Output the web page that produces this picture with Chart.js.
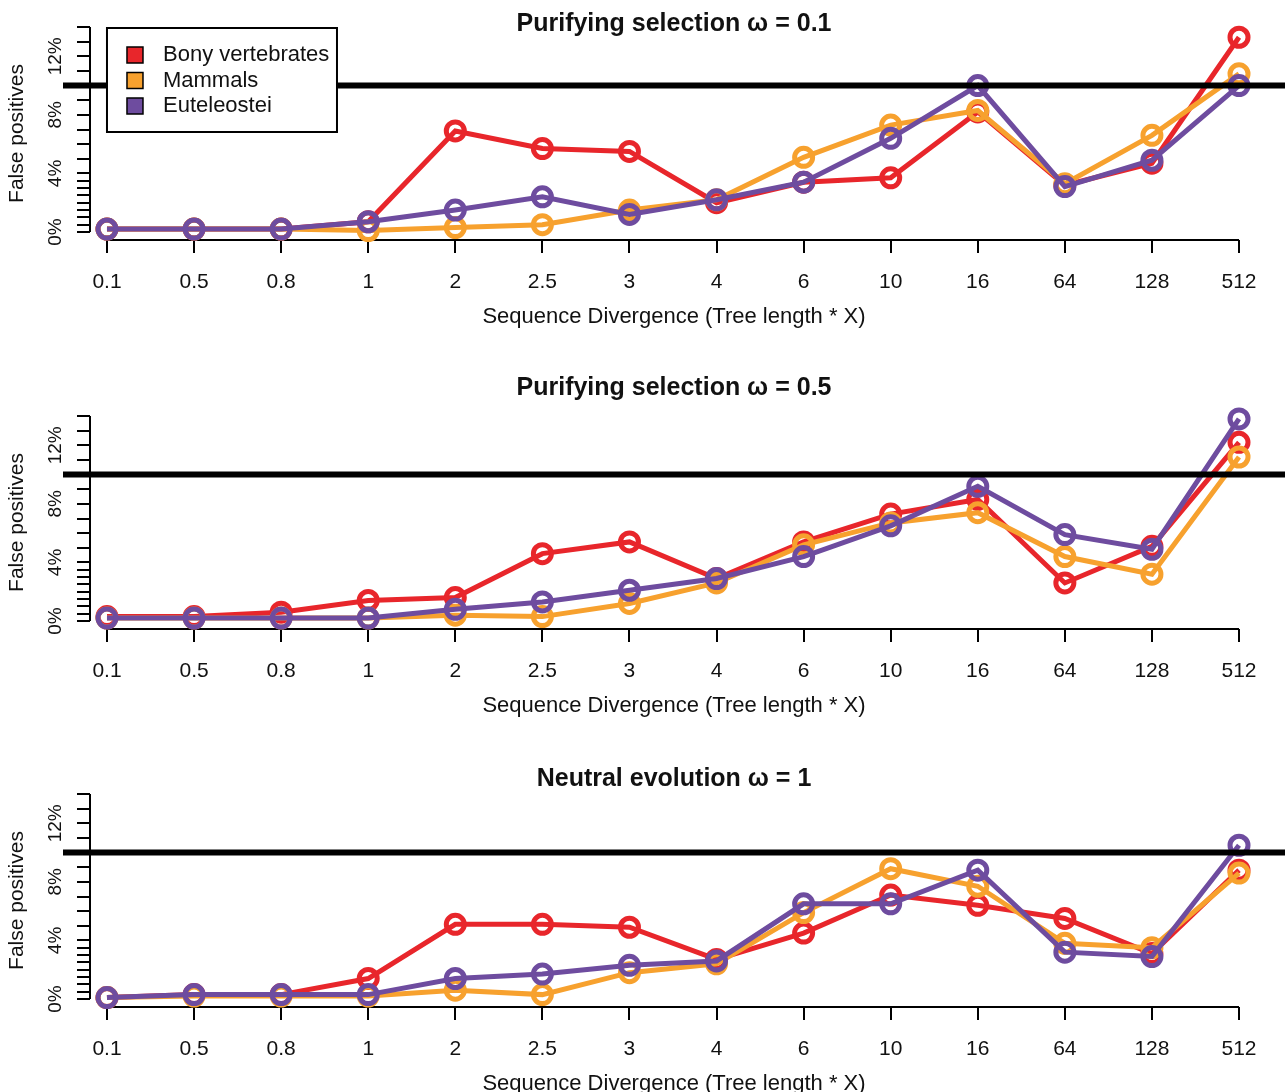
<!DOCTYPE html>
<html>
<head>
<meta charset="utf-8">
<script src="https://cdn.jsdelivr.net/npm/chart.js@4.4.1/dist/chart.umd.min.js"></script>
<style>
  html, body { margin: 0; padding: 0; background: #fff; }
  body { width: 1285px; height: 1092px; position: relative; overflow: hidden; }
  .panel { position: absolute; left: 0; width: 1285px; height: 360px; }
</style>
</head>
<body>
<div class="panel" style="top:-30px"><canvas id="p1" width="1285" height="360"></canvas></div>
<div class="panel" style="top:359px"><canvas id="p2" width="1285" height="360"></canvas></div>
<div class="panel" style="top:737px"><canvas id="p3" width="1285" height="360"></canvas></div>
<script>
// x categories (tree length multiplier)
const divergence = ['0.1', '0.5', '0.8', '1', '2', '2.5', '3', '4', '6', '10', '16', '64', '128', '512'];
const seriesNames = ['Bony vertebrates', 'Mammals', 'Euteleostei'];
const seriesColors = ['#E8262B', '#F7A12E', '#6E4C9F'];

// false positive rate (%), purifying selection w = 0.1
const bony01 = [0.2, 0.2, 0.2, 0.7, 6.9, 5.7, 5.5, 2.0, 3.4, 3.7, 8.2, 3.2, 4.7, 13.3];
const mammals01 = [0.2, 0.2, 0.2, 0.1, 0.3, 0.5, 1.5, 2.2, 5.1, 7.3, 8.3, 3.3, 6.6, 10.8];
const eutel01 = [0.2, 0.2, 0.2, 0.7, 1.5, 2.4, 1.2, 2.2, 3.4, 6.4, 10.0, 3.1, 4.9, 10.0];

// purifying selection w = 0.5
const bony05 = [0.3, 0.3, 0.6, 1.4, 1.6, 4.6, 5.4, 2.9, 5.4, 7.3, 8.3, 2.6, 5.1, 12.2];
const mammals05 = [0.2, 0.2, 0.2, 0.2, 0.4, 0.3, 1.2, 2.6, 5.2, 6.7, 7.4, 4.4, 3.2, 11.2];
const eutel05 = [0.2, 0.2, 0.2, 0.2, 0.8, 1.3, 2.1, 2.9, 4.4, 6.5, 9.2, 5.9, 4.9, 13.8];

// neutral evolution w = 1
const bony1 = [0.1, 0.3, 0.3, 1.4, 5.1, 5.1, 4.9, 2.7, 4.5, 7.1, 6.4, 5.5, 3.1, 8.8];
const mammals1 = [0.1, 0.2, 0.2, 0.2, 0.6, 0.3, 1.8, 2.4, 5.9, 8.9, 7.7, 3.8, 3.5, 8.6];
const eutel1 = [0.1, 0.3, 0.3, 0.3, 1.4, 1.7, 2.3, 2.6, 6.5, 6.5, 8.8, 3.2, 2.9, 10.5];

// y axis ticks: half steps below 4%, whole steps above
const yTickValues = [0, 0.5, 1, 1.5, 2, 2.5, 3, 3.5, 4, 5, 6, 7, 8, 9, 10, 11, 12, 13, 14];
const yLabelValues = [0, 4, 8, 12];
const threshold = 10;

Chart.defaults.font.family = '"Liberation Sans", Arial, Helvetica, sans-serif';
Chart.defaults.color = '#111';

// R-style axis lines (only between first and last tick) + threshold line
const rAxes = {
    id: 'rAxes',
    beforeDatasetsDraw(chart) {
        const { ctx, chartArea, scales: { x, y } } = chart;
        ctx.save();
        ctx.strokeStyle = '#000';
        ctx.lineWidth = 2;
        ctx.beginPath();
        ctx.moveTo(x.getPixelForValue(0), chartArea.bottom);
        ctx.lineTo(x.getPixelForValue(divergence.length - 1), chartArea.bottom);
        ctx.moveTo(chartArea.left, y.getPixelForValue(0));
        ctx.lineTo(chartArea.left, y.getPixelForValue(yTickValues[yTickValues.length - 1]));
        ctx.stroke();
        ctx.restore();
    },
    afterDatasetsDraw(chart) {
        const { ctx, scales: { y } } = chart;
        const ty = y.getPixelForValue(threshold);
        ctx.save();
        ctx.strokeStyle = '#000';
        ctx.lineWidth = 6;
        ctx.beginPath();
        ctx.moveTo(63, ty);
        ctx.lineTo(chart.width, ty);
        ctx.stroke();
        ctx.restore();
    }
};

// boxed legend inside the plot, top left
const boxLegend = {
    id: 'boxLegend',
    afterDraw(chart, args, opts) {
        if (!opts.display) return;
        const { ctx, chartArea, scales: { x } } = chart;
        const left = x.getPixelForValue(0);
        const top = chartArea.top + 1;
        const w = 230, h = 104;
        ctx.save();
        ctx.fillStyle = '#fff';
        ctx.fillRect(left, top, w, h);
        ctx.lineWidth = 2;
        ctx.strokeStyle = '#000';
        ctx.strokeRect(left, top, w, h);
        ctx.font = '22px "Liberation Sans", Arial, sans-serif';
        ctx.textBaseline = 'middle';
        chart.data.datasets.forEach((ds, i) => {
            const cy = top + 27 + i * 25.5;
            ctx.fillStyle = ds.borderColor;
            ctx.fillRect(left + 20, cy - 8, 16, 16);
            ctx.lineWidth = 1.5;
            ctx.strokeRect(left + 20, cy - 8, 16, 16);
            ctx.fillStyle = '#111';
            ctx.fillText(ds.label, left + 56, cy);
        });
        ctx.restore();
    }
};

function makePanel(canvasId, title, titlePad, values, withLegend) {
    const datasets = values.map((vals, i) => ({
        label: seriesNames[i],
        data: vals.map((v, j) => ({ x: j, y: v })),
        borderColor: seriesColors[i],
        backgroundColor: seriesColors[i],
        borderWidth: 5,
        pointRadius: 9,
        pointBorderWidth: 5,
        pointBackgroundColor: 'rgba(255,255,255,0)',
        pointBorderColor: seriesColors[i],
        order: values.length - i,
        clip: false
    }));

    return new Chart(document.getElementById(canvasId), {
        type: 'line',
        data: { datasets: datasets },
        options: {
            responsive: false,
            animation: false,
            layout: { padding: { left: 0, top: 0, bottom: 0, right: 27 }, autoPadding: false },
            plugins: {
                legend: { display: false },
                tooltip: { enabled: false },
                title: {
                    display: true,
                    fullSize: false,
                    text: title,
                    color: '#111',
                    font: { size: 25, weight: 'bold' },
                    padding: titlePad
                },
                boxLegend: { display: withLegend }
            },
            scales: {
                x: {
                    type: 'linear',
                    position: 'bottom',
                    min: -0.195,
                    max: 13.218,
                    afterBuildTicks: s => { s.ticks = divergence.map((_, i) => ({ value: i })); },
                    afterFit: s => { s.height = 90; s.paddingLeft = 0; s.paddingRight = 0; },
                    border: { display: false },
                    grid: { drawOnChartArea: false, drawTicks: true, tickLength: 13, lineWidth: 2, color: '#000' },
                    ticks: {
                        autoSkip: false,
                        maxRotation: 0,
                        padding: 17,
                        color: '#111',
                        font: { size: 21 },
                        callback: v => divergence[v]
                    },
                    title: {
                        display: true,
                        text: 'Sequence Divergence (Tree length * X)',
                        color: '#111',
                        font: { size: 22 },
                        padding: { top: 0, bottom: 0 }
                    }
                },
                y: {
                    type: 'linear',
                    position: 'left',
                    min: -0.546,
                    max: 14,
                    afterBuildTicks: s => { s.ticks = yTickValues.map(v => ({ value: v })); },
                    afterFit: s => { s.width = 90; s.paddingTop = 0; s.paddingBottom = 0; },
                    border: { display: false },
                    grid: { drawOnChartArea: false, drawTicks: true, tickLength: 13, lineWidth: 2, color: '#000' },
                    ticks: {
                        autoSkip: false,
                        minRotation: 90,
                        maxRotation: 90,
                        crossAlign: 'center',
                        padding: 2,
                        color: '#111',
                        font: { size: 19 },
                        callback: v => yLabelValues.includes(v) ? v + '%' : ''
                    },
                    title: {
                        display: true,
                        text: 'False positives',
                        color: '#111',
                        font: { size: 21 },
                        padding: { top: 5, bottom: 0 }
                    }
                }
            }
        },
        plugins: [rAxes, boxLegend]
    });
}

makePanel('p1', 'Purifying selection ω = 0.1', { top: 39, bottom: -12 },
    [bony01, mammals01, eutel01], true);
makePanel('p2', 'Purifying selection ω = 0.5', { top: 14, bottom: 13 },
    [bony05, mammals05, eutel05], false);
makePanel('p3', 'Neutral evolution ω = 1', { top: 27, bottom: 0 },
    [bony1, mammals1, eutel1], false);
</script>
</body>
</html>
